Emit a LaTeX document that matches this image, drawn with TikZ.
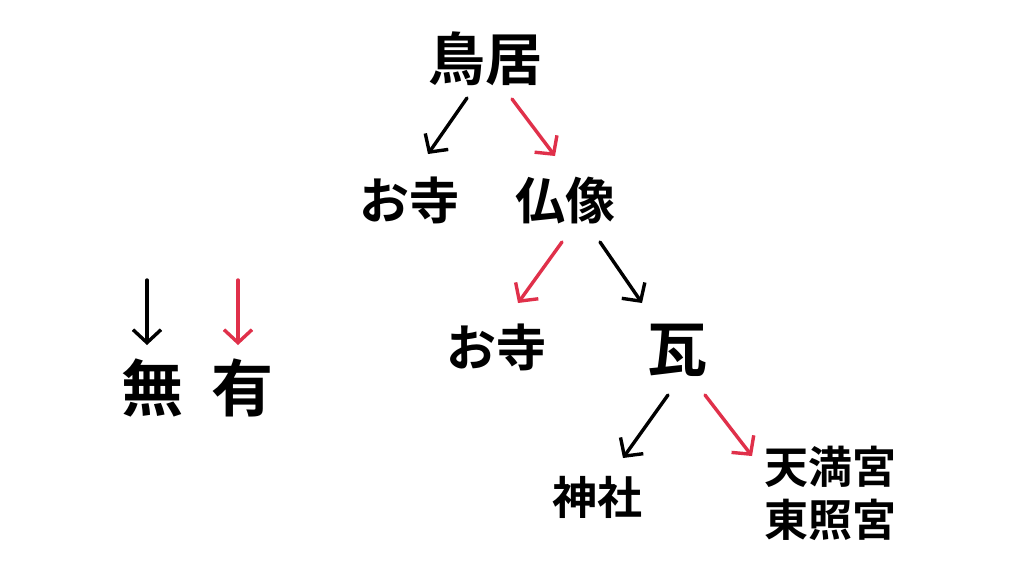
\documentclass[tikz,border=0pt]{standalone}
\usepackage{fontspec}
\newfontfamily\jp[BoldFont={Noto Sans CJK JP Bold}]{Noto Sans CJK JP}
\usetikzlibrary{arrows.meta}
\definecolor{arrred}{HTML}{E0304A}
\tikzset{
  lbl/.style={font=\jp\bfseries, inner sep=0pt, text=black},
  arr/.style={line width=3.4pt, line cap=round, -{Straight Barb[length=13pt,width=28pt,line width=3.4pt]}},
  blk/.style={arr, draw=black},
  rd/.style={arr, draw=arrred},
}
\begin{document}
\begin{tikzpicture}[x=1pt,y=-1pt]
\useasboundingbox (0,0) rectangle (1024,576);
\fill[white] (0,0) rectangle (1024,576);
% nodes
\node[lbl, font=\jp\bfseries\fontsize{57}{60}\selectfont] (torii) at (485,59) {鳥居};
\node[lbl, font=\jp\bfseries\fontsize{50}{52}\selectfont] (tera1) at (409,200) {お寺};
\node[lbl, font=\jp\bfseries\fontsize{50}{52}\selectfont] (butsu) at (565,201) {仏像};
\node[lbl, font=\jp\bfseries\fontsize{50}{52}\selectfont] (tera2) at (496,347) {お寺};
\node[lbl, font=\jp\bfseries\fontsize{60}{62}\selectfont] (kawara) at (677,350) {瓦};
\node[lbl, font=\jp\bfseries\fontsize{45}{47}\selectfont] (jinja) at (597,497) {神社};
\node[lbl, font=\jp\bfseries\fontsize{44}{53}\selectfont, align=left] (tenman) at (830,493) {天満宮\\東照宮};
\node[lbl, font=\jp\bfseries\fontsize{62}{64}\selectfont] (mu) at (152,388) {無};
\node[lbl, font=\jp\bfseries\fontsize{62}{64}\selectfont] (yu) at (242,388) {有};
% arrow ends
\coordinate (a1s) at (467,98);  \coordinate (a1e) at (428,154);
\coordinate (a2s) at (512,99);  \coordinate (a2e) at (555,156);
\coordinate (a3s) at (562,242); \coordinate (a3e) at (518,303);
\coordinate (a4s) at (600,242); \coordinate (a4e) at (642,303);
\coordinate (a5s) at (668,395); \coordinate (a5e) at (623,458);
\coordinate (a6s) at (705,395); \coordinate (a6e) at (752,456);
\coordinate (l1s) at (147,280); \coordinate (l1e) at (147,345);
\coordinate (l2s) at (238,280); \coordinate (l2e) at (238,345);
% arrows
\draw[blk] (a1s) -- (a1e);
\draw[rd]  (a2s) -- (a2e);
\draw[rd]  (a3s) -- (a3e);
\draw[blk] (a4s) -- (a4e);
\draw[blk] (a5s) -- (a5e);
\draw[rd]  (a6s) -- (a6e);
\draw[blk] (l1s) -- (l1e);
\draw[rd]  (l2s) -- (l2e);
\end{tikzpicture}
\end{document}
